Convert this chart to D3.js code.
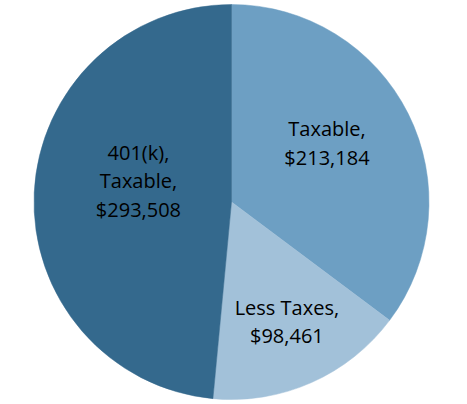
<!DOCTYPE html>
<html>
<head>
<meta charset="utf-8">
<script src="https://cdn.jsdelivr.net/npm/d3@7"></script>
<style>
  body { margin: 0; background: #fff; }
  svg { display: block; }
</style>
</head>
<body>
<script>
const categories = ['Taxable', 'Less Taxes', '401(k), Taxable'];
const values = [213184, 98461, 293508];
const labelLines = [['Taxable,'], ['Less Taxes,'], ['401(k),', 'Taxable,']];

const colors = ['#6d9fc3', '#a2c1d9', '#34698d'];
// label placement: share of radius, and angle nudge (degrees) from slice middle
const labelRadius = [0.567, 0.669, 0.483];
const labelNudge = [-4.9, -0.9, 10];

const width = 467, height = 404;
const cx = 231.5, cy = 202, r = 197.5;

const svg = d3.select('body').append('svg')
  .attr('width', width)
  .attr('height', height);

const g = svg.append('g').attr('transform', `translate(${cx},${cy})`);

const pie = d3.pie().sort(null).value((d) => d);
const arcs = pie(values);
const arc = d3.arc().innerRadius(0).outerRadius(r);

g.selectAll('path.slice')
  .data(arcs)
  .join('path')
  .attr('class', 'slice')
  .attr('d', arc)
  .attr('fill', (d, i) => colors[i])
  .attr('stroke', (d, i) => colors[i])
  .attr('stroke-width', 0.5);

const fmt = d3.format('$,');
const lineHeight = 28.5;

arcs.forEach((d, i) => {
  const lr = labelRadius[i] * r;
  const a = (d.startAngle + d.endAngle) / 2 + labelNudge[i] * Math.PI / 180;
  const lx = Math.sin(a) * lr;
  const ly = -Math.cos(a) * lr;
  const lines = labelLines[i].concat([fmt(values[i])]);
  const text = g.append('text')
    .attr('text-anchor', 'middle')
    .attr('font-family', 'Open Sans, sans-serif')
    .attr('font-size', 20)
    .attr('fill', '#000');
  lines.forEach((t, k) => {
    text.append('tspan')
      .attr('x', lx)
      .attr('y', ly + (k - (lines.length - 1) / 2) * lineHeight + 7)
      .text(t);
  });
});
</script>
</body>
</html>
